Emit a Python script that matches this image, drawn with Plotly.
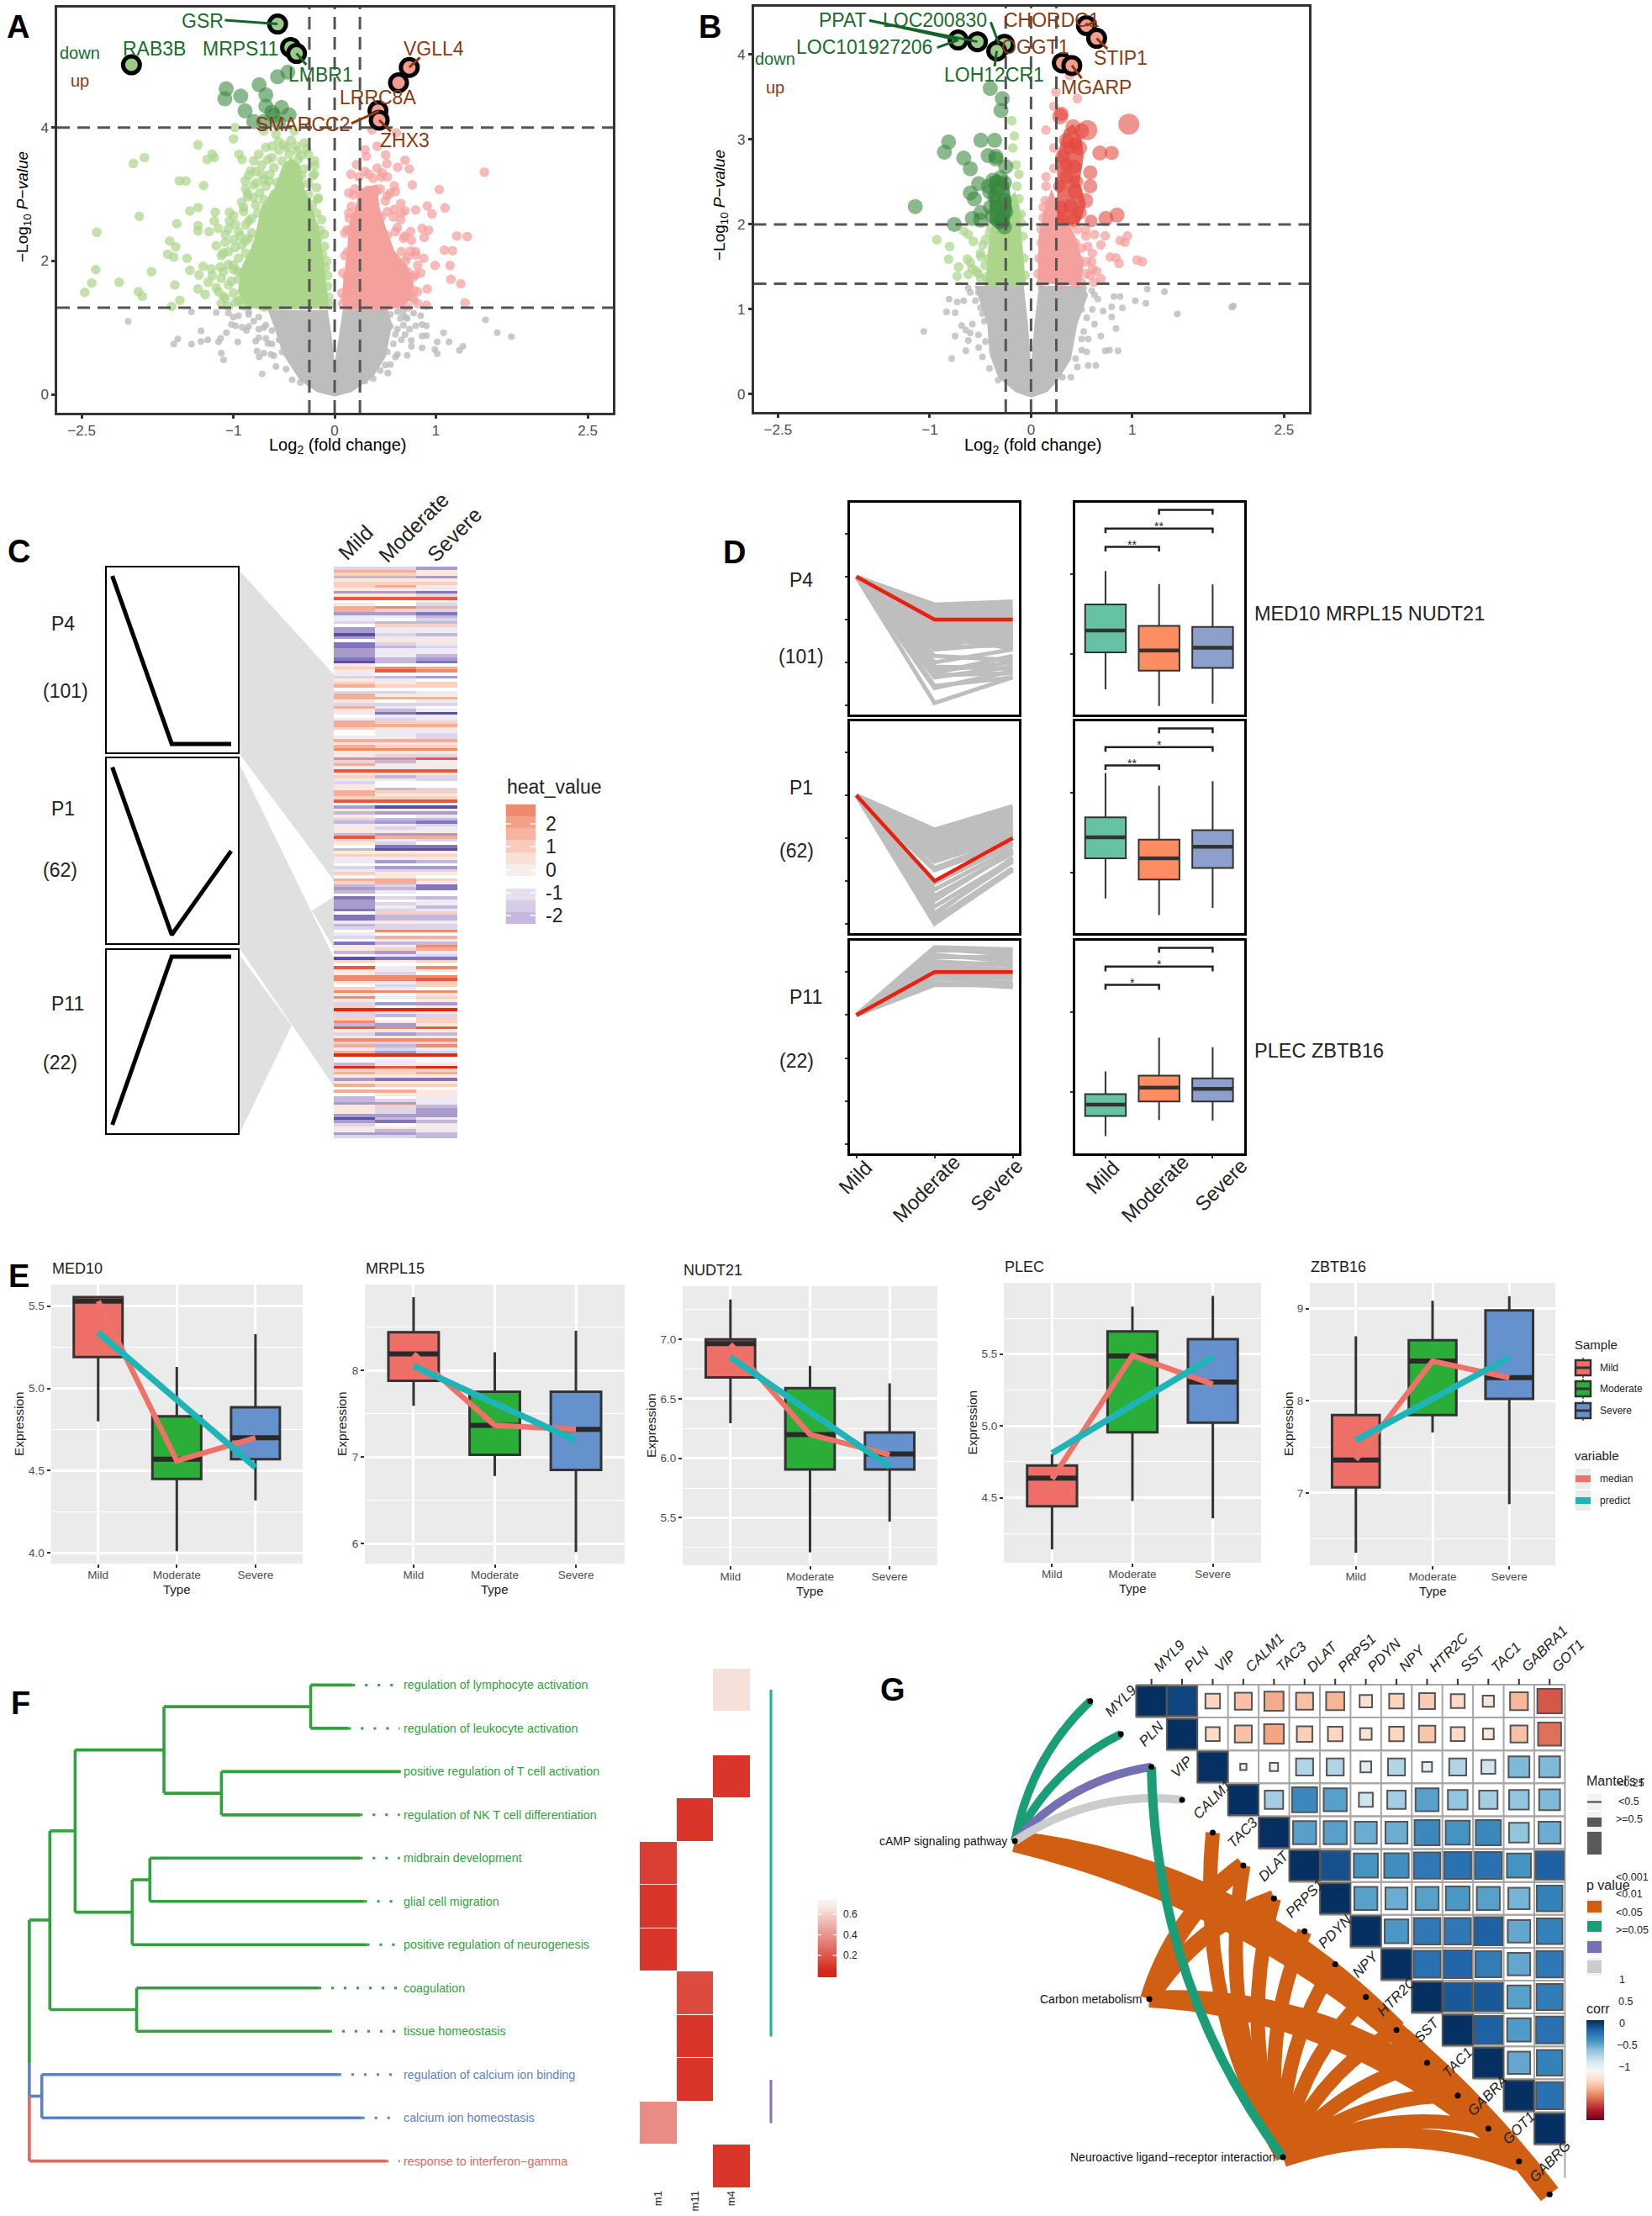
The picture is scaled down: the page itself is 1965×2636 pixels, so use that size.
import plotly.graph_objects as go

W, H = 1965, 2636
FONT = "Liberation Sans"

# ---------------- Panel A: volcano values (log2FC, -log10 P) ----------------
a_dark_green = [(-1.072,4.58),(-1.085,4.43),(-.928,4.47),(-.746,4.64),(-.68,4.49),(-.564,4.76),(-.462,4.83),(-.886,4.25),
                (-.68,4.32),(-.62,4.23),(-.525,4.30),(-.45,4.19),(-.80,4.09),(-.70,4.09),(-.555,4.07),(-.60,4.18)]
a_ring_green = [(-.564,5.55),(-.436,5.20),(-.377,5.11),(-2.008,4.94)]
a_ring_pink = [(.737,4.90),(.631,4.67),(.428,4.25),(.44,4.11)]
a_light_green = [(-.985,4.0),(-1.0,3.83),(-1.35,3.74),(-1.88,3.55),(-1.99,3.46),(-1.21,3.6),(-1.26,3.52),(-1.19,3.55),(-.945,3.6),(-.915,3.52),
    (-1.535,3.2),(-1.47,3.2),(-1.295,3.13),(-.885,3.2),(-.83,3.35),(-.86,3.01),(-1.35,2.80),(-1.43,2.75),(-1.18,2.73),(-1.04,2.73),(-1.93,2.67),
    (-1.56,2.56),(-2.35,2.43),(-1.35,2.53),(-1.35,2.45),(-1.24,2.44),(-1.19,2.6),(-1.04,2.6),(-1.15,2.49),(-1.08,2.4),(-1.63,2.3),(-1.57,2.21),
    (-1.65,2.10),(-1.59,2.06),(-1.46,2.04),(-1.17,2.23),(-1.10,2.12),(-.985,2.2),(-2.36,1.87),(-1.81,1.84),(-1.43,1.86),(-1.30,1.92),(-1.13,1.91),
    (-1.34,1.79),(-1.21,1.78),(-2.40,1.67),(-2.13,1.68),(-1.58,1.64),(-1.94,1.54),(-2.47,1.53),(-1.90,1.47),(-1.35,1.58),(-1.53,1.41),(-1.61,1.32),
    (-1.17,1.6),(-1.10,1.47),(-1.0,1.87),(-.955,1.40),(-.89,1.67),(-.83,1.93),(-.93,2.37),(-.85,2.6),(-.77,3.17),(-.68,3.7),(-.555,3.79),(-.43,3.81),
    (-.30,3.77),(-.195,3.43),(-.215,3.28),(-.17,2.93),(-.75,3.6),(-.62,3.55),(-.72,3.3),(-.65,3.2),(-.8,2.95),(-.9,2.8),(-.98,2.55),(-.88,2.3),
    (-1.02,1.7),(-.96,1.85),(-1.05,1.95),(-.78,1.78),(-.77,2.05),(-.37,3.65),(-.47,3.7),(-.26,3.6),(-.58,3.9),(-.4,3.95),(-.7,3.95),
    (-.62,3.72),(-.55,3.66),(-.5,3.74),(-.45,3.6),(-.38,3.72),(-.33,3.58),(-.28,3.68),(-.8,3.5),(-.72,3.44),(-.66,3.52),(-.6,3.4),(-.52,3.5),(-.44,3.42),(-.36,3.52),(-.3,3.38),(-.2,3.5),
    (-.85,3.28),(-.78,3.34),(-.7,3.22),(-.64,3.3),(-.57,3.18),(-.48,3.32),(-.4,3.2),(-.33,3.28),(-.26,3.16),(-.2,3.3),(-.88,3.08),(-.8,3.14),(-.74,3.02),(-.68,3.12),(-.6,3.0),(-.5,3.1),
    (-.42,3.02),(-.34,3.14),(-.26,3.0),(-.18,3.1),(-.92,2.88),(-.86,2.96),(-.78,2.84),(-.7,2.92),(-.62,2.82),(-.52,2.94),(-.44,2.86),(-.3,2.92),(-.22,2.84),(-.16,2.94),
    (-1.0,2.68),(-.9,2.74),(-.82,2.64),(-.76,2.72),(-.68,2.62),(-.6,2.74),(-.26,2.66),(-.18,2.72),(-.13,2.62),(-1.05,2.48),(-.95,2.44),(-.88,2.54),(-.82,2.42),(-.72,2.5),(-.64,2.42),(-.2,2.52),(-.14,2.46),(-.1,2.4),
    (-1.08,2.28),(-1.0,2.32),(-.92,2.24),(-.85,2.34),(-.78,2.22),(-.7,2.3),(-.16,2.34),(-.1,2.22),(-1.12,2.08),(-1.05,2.14),(-.95,2.04),(-.88,2.12),(-.8,2.02),(-.72,2.14),(-.12,2.1),(-.08,2.0),
    (-1.22,1.88),(-1.1,1.84),(-1.0,1.94),(-.92,1.82),(-.85,1.9),(-.75,1.84),(-.09,1.9),(-.07,1.78),(-1.25,1.68),(-1.12,1.74),(-1.05,1.64),(-.95,1.72),(-.88,1.6),(-.78,1.7),(-.07,1.62),
    (-1.28,1.5),(-1.15,1.54),(-1.08,1.44),(-1.0,1.52),(-.92,1.42),(-.82,1.5),(-.06,1.46),(-1.12,1.36),(-1.05,1.32),(-.98,1.38),(-.9,1.33),(-.8,1.36),(-.7,1.31),(-.6,1.34),(-.05,1.34)]
a_light_pink = [(1.48,3.33),(1.034,3.07),(1.09,2.795),(.915,2.825),(.962,2.706),(.767,3.14),(.737,3.378),(.695,3.51),(.623,3.404),(.61,3.92),(.42,3.72),
    (.3,3.664),(.504,3.59),(.313,3.567),(.516,3.457),(.216,3.444),(.42,3.39),(.335,3.30),(.462,3.26),(.589,3.126),(.547,3.015),(.653,2.86),(.589,2.77),
    (.695,2.75),(.8,2.764),(.653,2.62),(.864,2.486),(.928,2.46),(.885,2.353),(1.206,2.375),(1.31,2.366),(1.085,2.163),(1.165,2.155),(.992,1.934),
    (1.14,1.934),(1.148,1.726),(1.246,1.66),(.915,1.58),(.78,1.558),(1.288,1.373),(.907,1.338),(.82,1.36),(.78,1.426),(.82,1.934),(.8,2.09),(.695,2.375),
    (.758,2.31),(.8,1.8),(.737,1.757),(.186,2.99),(.165,2.817),(.123,2.464),(.144,2.64),(.369,3.965),(.5,2.9),(.42,3.05),(.62,2.5),(.75,2.15),(.7,2.0),(.6,1.4),
    (.16,3.3),(.24,3.26),(.3,3.34),(.38,3.24),(.47,3.32),(.52,3.26),(.14,3.02),(.2,3.08),(.26,2.98),(.33,3.06),(.38,2.96),(.45,3.08),(.52,2.98),(.6,3.04),
    (.14,2.72),(.2,2.66),(.28,2.74),(.34,2.64),(.4,2.72),(.46,2.66),(.52,2.74),(.58,2.66),(.66,2.72),(.1,2.42),(.16,2.46),(.22,2.36),(.3,2.44),(.38,2.36),(.45,2.46),(.52,2.38),(.6,2.44),(.68,2.34),(.75,2.44),
    (.1,2.08),(.13,2.14),(.2,2.04),(.5,2.12),(.58,2.04),(.66,2.14),(.72,2.06),(.8,2.14),(.88,2.04),(.08,1.82),(.12,1.76),(.6,1.84),(.66,1.76),(.72,1.84),(.78,1.76),(.85,1.82),
    (.07,1.52),(.1,1.46),(.55,1.54),(.62,1.46),(.7,1.52),(.76,1.46),(.82,1.54),(.08,1.36),(.15,1.32),(.3,1.35),(.5,1.32),(.65,1.35),(.72,1.31)]
a_gray = [(-2.04,1.095),(-1.415,1.236),(-1.59,.755),(-1.55,.83),(-1.415,.755),(-1.32,.954),(-1.32,.795),(-1.254,.82),(-1.148,.786),(-1.127,.84),(-1.12,.62),
    (-1.097,.52),(-1.07,.927),(-1.17,1.227),(-1.0,1.16),(-1.02,1.05),(-.98,1.03),(-.915,1.007),(-.873,.96),(-.957,.786),(-.767,.653),(-.746,.565),(-.716,.31),
    (-.66,.764),(1.49,1.117),(1.606,.927),(1.746,.865),(1.267,.72),(1.233,.662),(1.13,.786),(1.076,.927),(1.013,.786),(.99,.675),(1.013,.61),(.864,1.05),
    (.907,1.03),(.8,1.03),(.864,.874),(.907,.883),(.864,.70),(.758,.808),(.758,.72),(.695,.896),(.716,.587),(.65,1.14),(.716,1.14),(.674,1.227),(.525,.322),
    (-.85,1.2),(-.8,1.1),(-.7,1.0),(-.75,.85),(-.63,.6),(.6,.9),(.62,.6),(.55,.45),
    (-1.05,1.22),(-.95,1.18),(-.85,1.24),(-.75,1.16),(.55,1.2),(.62,1.24),(.7,1.16),(.78,1.22),(.85,1.18),(-.85,1.02),(-.75,.98),(-.68,1.04),(-.62,.96),(.55,1.02),(.62,.98),(.68,1.04),(.74,.98),
    (-.78,.8),(-.68,.84),(-.62,.76),(-.55,.82),(.5,.84),(.58,.76),(.66,.82),(-.7,.62),(-.6,.58),(-.52,.64),(.45,.6),(.52,.64),(.6,.56),(-.58,.42),(-.48,.38),(-.4,.44),(.38,.42),(.45,.36),(.5,.44),(-.42,.22),(-.34,.18),(.3,.2),(.38,.24)]
a_core_green = [(-.682,1.263),(-.873,1.316),(-.958,1.536),(-.915,1.934),(-.81,2.243),(-.767,2.508),(-.725,2.817),(-.597,3.082),(-.513,3.435),(-.428,3.545),
    (-.343,3.435),(-.30,3.082),(-.216,2.773),(-.153,2.464),(-.11,2.022),(-.068,1.492),(-.055,1.294)]
a_core_pink = [(.08,1.27),(.08,1.625),(.123,2.155),(.144,2.552),(.208,2.817),(.25,3.082),(.42,3.148),(.44,2.817),(.504,2.508),(.589,2.155),(.716,1.934),
    (.78,1.669),(.758,1.448),(.674,1.316),(.504,1.263)]
a_core_gray = [(-.661,1.263),(-.597,1.007),(-.513,.609),(-.343,.212),(-.174,.035),(0,-.03),(.165,.035),(.377,.256),(.504,.565),(.568,1.05),(.525,1.263),
    (.08,1.263),(.038,.83),(0,.477),(-.025,.83),(-.068,1.263)]
a_leader_green = [[(-1.085,5.607),(-.564,5.55)],[(-.377,5.11),(-.28,4.94)]]
a_leader_brown = [[(.737,4.90),(.843,5.05)],[(.44,4.25),(.165,4.06)],[(.44,4.11),(.555,3.94)]]
a_labels = [("GSR",241,25,"g"),("RAB3B",183,58,"g"),("MRPS11",286,58,"g"),("LMBR1",381,89,"g"),("VGLL4",516,58,"b"),("LRRC8A",449,116,"b"),
            ("SMARCC2",360,148,"b"),("ZHX3",481,167,"b")]

# ---------------- Panel B: volcano values ----------------
b_ring_green = [(-.72,4.17),(-.53,4.15),(-.263,4.12),(-.339,4.04)]
b_ring_pink = [(.547,4.34),(.648,4.19),(.309,3.90),(.403,3.87)]
b_dark_green = [(-.403,3.60),(-.284,3.48),(-.297,3.34),(-.814,2.97),(-.856,2.85),(-.665,2.78),(-.60,2.655),(-.496,2.99),(-.36,2.99),(-.424,2.81),(-.347,2.77),
    (-.25,2.68),(-.517,2.48),(-.60,2.37),(-.56,2.30),(-.377,2.52),(-.326,2.42),(-.263,2.28),(-1.144,2.21),(-.758,2.0),(-.58,2.07),(-.496,2.14),(-.326,2.21),
    (-.305,2.07),(-.41,2.385),(-.263,2.49),(-.263,1.97),(-.347,2.8),(-.5,2.05),(-.4,2.2),(-.36,2.32),(-.3,2.55),(-.38,2.1),(-.25,2.15),(-.42,2.45)]
b_dark_red = [(.288,3.27),(.555,3.11),(.966,3.18),(.415,3.15),(.35,2.99),(.48,2.9),(.68,2.84),(.797,2.84),(.585,2.61),(.585,2.45),(.54,2.28),(.31,2.8),(.35,2.56),
    (.436,2.385),(.394,2.21),(.48,2.14),(.593,2.04),(.74,2.07),(.85,2.11),(.31,2.07),(.28,2.45),(.43,2.68),(.5,3.1),(.3,3.3),(.45,2.5),(.3,2.2),(.42,2.05),(.38,2.9),(.44,2.95),(.35,2.7)]
b_dark_red_size = [19,24,25,18,18,18,18,17,17,17,18,17,17,18,18,17,15,18,18,15,15,17,18,17,16,16,16,16,16,16]
b_light_green = [(-.19,3.22),(-.165,3.04),(-.18,2.9),(-.148,2.70),(-.12,2.59),(-.93,1.82),(-.805,1.74),(-.665,1.92),(-.62,1.88),(-.57,1.80),(-.814,1.59),(-.716,1.50),
    (-.73,1.39),(-.63,1.59),(-.60,1.55),(-.496,1.62),(-.62,1.41),(-.496,1.36),(-.58,1.48),(-.475,1.76),(-.41,1.90),(-.453,1.52),(-.54,1.45),(-.38,1.7),(-.14,2.45),(-.12,2.3),
    (-.4,1.98),(-.34,2.02),(-.28,1.96),(-.22,2.04),(-.16,1.98),(-.1,2.02),(-.45,1.82),(-.36,1.86),(-.3,1.8),(-.24,1.88),(-.15,1.8),(-.08,1.86),(-.5,1.66),(-.42,1.6),(-.34,1.66),(-.26,1.58),(-.16,1.64),(-.07,1.6),
    (-.52,1.42),(-.44,1.38),(-.38,1.44),(-.3,1.36),(-.2,1.42),(-.12,1.34),(-.06,1.4),(-.42,1.31),(-.3,1.3),(-.15,1.31),(-.18,2.2),(-.13,2.1),(-.1,2.12)]
b_light_pink = [(.148,3.11),(.246,3.56),(.225,3.39),(.458,3.48),(.225,2.9),(.148,2.56),(.148,2.45),(.18,2.25),(.14,2.28),(.225,2.66),(.953,1.865),(.88,1.81),(.928,1.79),
    (.733,1.865),(.69,1.76),(.627,1.88),(.54,1.93),(.784,1.615),(.84,1.605),(.869,1.54),(1.047,1.58),(1.10,1.56),(.69,1.36),(.606,1.66),(.606,1.47),(.648,1.45),(.5,1.31),(.585,1.4),(.38,3.75),
    (.12,2.08),(.1,1.94),(.2,2.02),(.28,1.96),(.38,1.98),(.46,1.94),(.54,1.86),(.1,1.78),(.16,1.8),(.3,1.82),(.44,1.78),(.5,1.72),(.56,1.74),(.08,1.6),(.14,1.58),(.32,1.6),(.48,1.58),(.55,1.56),(.6,1.56),
    (.07,1.42),(.13,1.38),(.22,1.4),(.36,1.42),(.46,1.36),(.54,1.42),(.62,1.32),(.1,1.31),(.3,1.3),(.44,1.3),(.12,2.2),(.16,2.12)]
b_gray = [(-1.06,.74),(-.784,.42),(-.835,.97),(-.75,.96),(-.81,1.12),(-.73,1.085),(-.665,1.10),(-.686,.81),(-.644,.756),(-.58,.825),(-.60,.72),(-.75,.686),(-.644,.513),(-.517,.548),
    (-.62,.634),(.86,.513),(.733,.513),(.775,.52),(.69,.686),(.839,.773),(.627,.825),(.712,.98),(.797,1.03),(.903,1.016),(.797,.91),(.88,1.15),(.818,1.15),(1.03,1.10),(1.135,1.07),
    (1.148,1.24),(1.318,1.206),(1.445,.946),(1.983,1.026),(2.0,1.04),(.627,1.17),(.564,.34),(.64,.34),(.458,.322),(.394,.2),(.31,.2),(-.41,.305),(-.326,.166),(.5,.65),(.564,.65),(.606,1.0),
    (-.55,1.1),(-.48,.95),(-.6,1.2),(.55,.9),(.5,1.0),(-.62,1.25),(-.52,1.2),(-.5,1.02),(-.46,.86),(-.52,.7),(-.45,.62),(-.48,.44),(.52,1.25),(.6,1.22),(.66,1.12),(.52,.74),(.5,.52),(.44,.42),(.55,.5)]
b_core_lgreen = [(-.453,1.276),(-.411,1.865),(-.347,2.142),(-.263,2.246),(-.157,2.385),(-.114,2.21),(-.093,1.865),(-.05,1.276)]
b_core_pink = [(.064,1.31),(.076,1.865),(.14,2.21),(.203,2.42),(.267,2.21),(.436,1.865),(.52,1.518),(.479,1.276)]
b_core_dgreen = [(-.41,2.02),(-.41,2.558),(-.326,2.593),(-.22,2.49),(-.19,2.21),(-.22,1.97),(-.326,1.934)]
b_core_dred = [(.258,2.0),(.258,2.8),(.33,3.113),(.415,3.18),(.5,3.01),(.52,2.8),(.479,2.49),(.542,2.246),(.5,2.073),(.458,2.0)]
b_core_gray = [(-.559,1.276),(-.432,.825),(-.411,.478),(-.326,.2),(-.157,.028),(0,-.04),(.161,.028),(.267,.166),(.394,.409),(.458,.825),(.564,1.17),(.52,1.276),
    (.076,1.276),(.034,.825),(0,.34),(-.03,.825),(-.072,1.276)]
b_leader_green = [[(-1.597,4.40),(-.72,4.17)],[(-1.597,4.40),(-.53,4.15)],[(-.398,4.38),(-.318,4.125)],[(-.928,4.08),(-.72,4.17)],[(-.36,3.86),(-.339,4.04)]]
b_leader_brown = [[(.547,4.34),(.648,4.395)],[(.648,4.19),(.754,4.066)],[(.403,3.87),(.5,3.72)]]
b_labels = [("PPAT",1003,24,"g"),("LOC200830",1112,24,"g"),("CHORDC1",1251,24,"b"),("LOC101927206",1028,56,"g"),("OGGT1",1231,56,"b"),
            ("LOH12CR1",1182,89,"g"),("STIP1",1333,69,"b"),("MGARP",1304,104,"b")]

# ---------------- Panel C ----------------
stage_x = [0, 1, 2]
pattern_p4 = [1, 0, 0]
pattern_p1 = [1, 0, 0.5]
pattern_p11 = [0, 1, 1]
heat_rows = [
 (-1,-1,-2),(1.5,1.5,.5),(1,1,.5),(-1.5,-1.5,-2),(.5,.5,.5),(1,1,1),(1,1.5,.5),(.5,.5,-.5),(-2,-2,-2.5),(.5,.5,-1),(2.5,2.5,2.5),(0,0,-.5),(.5,0,-1),
 (1.5,2,1.5),(1.5,1,-1),(-2,-2,-2.5),(-.5,-.5,-1.5),(-.5,0,-1),(-1,-1.5,-1.5),(0,1,1),(-2,-.5,-.5),(-2,-.5,-.5),(-3,-1,-1.5),(-2,-.5,-.5),(0,.5,.5),
 (-2.5,-1,-.5),(-2.5,-1.5,-1),(-2,-.5,-.5),(-2,-.5,-.5),(-2,-.5,-1.5),(-2.5,-1.5,-2),(-3,-1.5,-2.5),(.5,0,0),(1,2,1.5),(.5,2.5,2),(-.5,0,0),(-1,-1.5,-2),
 (.5,-.5,0),(1,.5,1),(1.5,1,1),(0,0,0),(-1,-1,-.5),(1.5,.5,.5),(1.5,1.5,1.5),(.5,0,-.5),(-1,-1,-1),(1.5,-.5,0),(.5,-1.5,-.5),(-.5,-2.5,-3),(0,-.5,-.5),
 (-.5,-1,-.5),(1.5,1,1),(1.5,1.5,1.5),(1,.5,.5),(0,-.5,-.5),(0,-.5,-1),(-.5,-.5,-1),(1.5,1.5,1.5),(.5,.5,.5),(1.5,1,1),(2,2,2),(.5,.5,.5),
 (-.5,-1,-1),(2,2,2.5),(-1,-1.5,-.5),(1.5,.5,.5),(-.5,-.5,-.5),(2.5,2.5,2.5),(.5,.5,.5),(1,-1.5,-1),(-.5,-.5,-1),(-1,0,0),(.5,0,0),(-.5,-1.5,-1),(1.5,1,1),
 (1.5,.5,.5),(1,1,1),(2.5,2.5,2.5),(0,0,0),(-2,-3,-3),(.5,.5,.5),(-1.5,-2,-2),(.5,0,-.5),(-1,-1.5,-1.5),(-1.5,-2,-2.5),(-.5,-.5,-1),(.5,-1,-.5),(.5,.5,.5),
 (-1.5,-2,-2),(2.5,1.5,1.5),(1,-.5,-1),(.5,-1,0),(0,-2.5,-2.5),(-1.5,-3,-3),(.5,.5,.5),(1,1,1),(-.5,-.5,.5),(-.5,-2,-1.5),(0,0,0),(-1,-2,-2),(-.5,-1,-1),
 (1,.5,.5),(0,.5,0),(1.5,1.5,1),(1,1.5,.5),(-1.5,-1,-2.5),(-2,-1.5,-2.5),(-1.5,-.5,0),(0,0,0),(-2.5,-1,-1.5),(-2,0,-.5),(-2,-1,-.5),(-2,-.5,-1.5),(-2.5,-1,-.5),
 (0,1,1),(-2.5,-1.5,-1.5),(-2.5,-1.5,-1.5),(-.5,.5,-.5),(-1.5,-1,-1),(-1,-1,-1),(0,2,2),(-.5,0,0),(-1,1.5,1.5),(0,-.5,-.5),(-2.5,-1.5,-1.5),(-.5,-.5,2),
 (.5,1,1.5),(-1.5,-2,-.5),(0,-.5,-1),(-3,-2.5,-2.5),(1,.5,1),(0,0,0),(2.5,-.5,2),(.5,-.5,.5),(.5,-1,0),(2,2,2),(2,2,2.5),(.5,-.5,1),(0,-1,1),(1,-.5,0),(2,2,2),
 (.5,0,.5),(2,-.5,1),(.5,0,.5),(-1,-2,-2),(1,0,.5),(3,3,3),(-1,-.5,-.5),(-1,-1.5,-1),(1,0,1),(2,.5,1),(-1.5,-2,.5),(2.5,2,2.5),(.5,.5,.5),(-1,-2,-1.5),(.5,.5,.5),
 (2,2,2),(-1,-1,-1),(1.5,-1.5,2),(-.5,-1,-.5),(1.5,-2,-1),(3,3,3),(0,0,0),(0,-.5,0),(-1.5,-.5,-.5),(3,2.5,3),(1,1,1),(1.5,1,1.5),(.5,.5,.5),(-2,-2.5,-2.5),(.5,.5,.5),
 (1.5,1,1),(0,0,0),(1.5,1.5,.5),(0,.5,.5),(-1.5,0,-.5),(-1.5,-1,-.5),(-2,-2,-.5),(.5,1,-1.5),(.5,-1,-2),(.5,-1,-2),(-2,-2,-2),(-3,-1.5,-.5),(-2,-2.5,-1.5),(-1,0,-.5),
 (.5,.5,.5),(-.5,-1.5,-.5),(-2,-2,-1.5),(-1,-1,-1.5)]
heat_colorscale = [[0,'#5B4EA6'],[1/6,'#A99BCB'],[2/6,'#DCD4E8'],[.5,'#FFFFFF'],[4/6,'#FAD0C0'],[5/6,'#F08A6C'],[1,'#E8250F']]
heat_legend_levels = [2.75,2.25,1.75,1.25,.75,.25,-.25,-.75,-1.25,-1.75]
heat_legend_colors = ['#F08A6C','#F3A089','#F6B5A2','#F8CBBB','#F9E0D6','#F6EEEA','#FFFFFF','#E5DFEE','#D6CCE5','#C6B8DC']

# ---------------- Panel D ----------------
d_p4_lines = [(-.65,-.58),(-.7,-.65),(-.72,-.8),(-.75,-.72),(-.8,-.85),(-.85,-.95),(-.9,-.75),(-.95,-1.05),(-1.,-.9),(-1.05,-1.2),(-1.1,-1.1),(-1.15,-1.0),(-1.2,-1.3),
    (-1.25,-1.15),(-1.3,-1.4),(-1.35,-1.25),(-1.4,-1.5),(-1.45,-1.3),(-1.5,-1.55),(-1.55,-1.35),(-1.6,-1.4),(-1.65,-1.6),(-1.7,-1.55),(-1.85,-1.95),(-2.0,-1.7),(-2.1,-2.15),
    (-2.2,-2.0),(-2.3,-2.25),(-2.35,-2.1),(-2.55,-2.35),(-2.6,-2.2),(-2.95,-2.35),(-2.25,-1.85),(-.68,-.9),(-.78,-1.1),(-.88,-1.25),(-.98,-1.45),(-1.08,-1.5),(-1.18,-1.65),(-1.28,-1.7)]
d_p1_lines = [(-.8,-.25),(-.85,-.3),(-.9,-.4),(-.95,-.35),(-1.0,-.5),(-1.05,-.45),(-1.1,-.6),(-1.15,-.55),(-1.2,-.7),(-1.25,-.65),(-1.3,-.75),(-1.35,-.85),(-1.45,-.9),(-1.55,-.95),
    (-1.7,-1.0),(-1.75,-1.1),(-2.05,-1.15),(-2.35,-1.35),(-2.45,-1.3),(-2.6,-1.5),(-2.75,-1.55),(-2.9,-1.7),(-3.0,-1.75),(-2.2,-1.25),(-2.8,-1.45),(-.82,-.5),(-.92,-.7),(-1.02,-.8),(-1.12,-.95)]
d_p11_lines = [(1.55,1.4),(1.5,1.5),(1.4,1.25),(1.35,1.35),(1.25,1.15),(1.2,1.2),(1.15,1.05),(1.1,.95),(1.05,.9),(.95,.85),(.85,.75),(.75,.65),(.7,.7),(1.58,1.53),(1.0,.7),(.9,.66)]
d_red = [(-1,-1),(-2,-1),(1,1)]
# whisker high, q3, median, q1, whisker low per stage, per row
d_boxes = [
 [(1.04,.62,.29,.017,-.45),(.875,.348,.04,-.215,-.66),(.87,.336,.075,-.18,-.63)],
 [(1.25,.69,.44,.174,-.33),(1.087,.41,.174,-.093,-.54),(1.145,.53,.32,.052,-.45)],
 [(.26,-.023,-.157,-.297,-.55),(.686,.209,.058,-.116,-.349),(.564,.174,.041,-.116,-.355)]]
d_box_colors = ['#66C2A5','#FC8D62','#8DA0CB']
d_stars = [("**","**"),("*","**"),("*","*")]

# ---------------- Panel E ----------------
e_genes = ["MED10","MRPL15","NUDT21","PLEC","ZBTB16"]
e_boxes = {
 "MED10":[(5.555,5.555,5.53,5.19,4.80),(5.13,4.83,4.57,4.45,4.01),(5.33,4.885,4.70,4.57,4.32)],
 "MRPL15":[(8.846,8.44,8.19,7.88,7.59),(8.21,7.754,7.365,7.026,6.78),(8.457,7.754,7.32,6.85,5.9)],
 "NUDT21":[(7.336,7.0,6.965,6.68,6.295),(6.777,6.59,6.2,5.906,5.21),(6.63,6.217,6.036,5.906,5.467)],
 "PLEC":[(4.803,4.725,4.637,4.44,4.14),(5.83,5.658,5.487,4.955,4.477),(5.906,5.604,5.305,5.023,4.357)],
 "ZBTB16":[(8.70,7.845,7.357,7.06,6.35),(9.085,8.658,8.43,7.845,7.656),(9.137,8.98,8.25,8.02,6.878)]}
e_median = {"MED10":[5.53,4.56,4.70],"MRPL15":[8.19,7.365,7.32],"NUDT21":[6.96,6.2,6.03],"PLEC":[4.63,5.49,5.29],"ZBTB16":[7.36,8.43,8.25]}
e_predict = {"MED10":[5.34,4.52],"MRPL15":[8.05,7.19],"NUDT21":[6.85,5.93],"PLEC":[4.81,5.48],"ZBTB16":[7.57,8.47]}
e_ticks = {"MED10":[4,4.5,5,5.5],"MRPL15":[6,7,8],"NUDT21":[5.5,6,6.5,7],"PLEC":[4.5,5,5.5],"ZBTB16":[7,8,9]}
e_minor = {"MED10":[4.25,4.75,5.25],"MRPL15":[6.5,7.5,8.5],"NUDT21":[5.25,5.75,6.25,6.75,7.25],"PLEC":[4.25,4.75,5.25,5.75],"ZBTB16":[6.5,7.5,8.5]}
e_yrange = {"MED10":(3.935,5.631),"MRPL15":(5.767,8.992),"NUDT21":(5.10,7.447),"PLEC":(4.047,5.996),"ZBTB16":(6.213,9.28)}
e_stage = ["Mild","Moderate","Severe"]
e_colors = ['#ED6F68','#2BAE38','#6592CD']

# ---------------- Panel F ----------------
f_terms = ["regulation of lymphocyte activation","regulation of leukocyte activation","positive regulation of T cell activation",
           "regulation of NK T cell differentiation","midbrain development","glial cell migration","positive regulation of neurogenesis",
           "coagulation","tissue homeostasis","regulation of calcium ion binding","calcium ion homeostasis","response to interferon−gamma"]
f_term_groups = ["g","g","g","g","g","g","g","g","g","b","b","r"]
f_leaf_end = [.877,.867,.997,.896,.896,.907,.913,.793,.82,.843,.901,.96]
f_stem_x = [.773,.773,.551,.551,.373,.373,.329,.34,.34,.104,.104,.073]
f_inner_green = [(.408,.5,.773,.5),(.773,0,.773,1),(.408,2.5,.551,2.5),(.551,2,.551,3),(.408,.5,.408,2.5),(.187,1.5,.408,1.5),(.187,5.25,.329,5.25),
                 (.329,4.5,.373,4.5),(.373,4,.373,5),(.329,4.5,.329,6),(.187,1.5,.187,5.25),(.124,3.37,.187,3.37),(.124,7.5,.34,7.5),(.34,7,.34,8),
                 (.124,3.37,.124,7.5),(.073,5.43,.124,5.43),(.073,5.43,.073,8.75)]
f_inner_blue = [(.104,9,.104,10),(.073,9.5,.104,9.5),(.073,8.75,.073,9.5)]
f_inner_red = [(.073,9.5,.073,11)]
f_cols = ["m1","m11","m4"]
f_tiles = [[None,None,.65],[None,None,None],[None,None,.1],[None,.1,None],[.13,None,None],[.1,None,None],[.1,None,None],
           [None,.17,None],[None,.1,None],[None,.1,None],[.38,None,None],[None,None,.1]]
f_scale = [[0,'#D7261A'],[1,'#F8EFEA']]
f_ramp = [.72,.66,.6,.54,.48,.42,.36,.3,.24,.18,.12,.06,.01]

# ---------------- Panel G ----------------
g_cols = ["MYL9","PLN","VIP","CALM1","TAC3","DLAT","PRPS1","PDYN","NPY","HTR2C","SST","TAC1","GABRA1","GOT1"]
g_rows = ["MYL9","PLN","VIP","CALM1","TAC3","DLAT","PRPS1","PDYN","NPY","HTR2C","SST","TAC1","GABRA","GOT1","GABRG"]
g_corr = [
 [1,.92,-.22,-.3,-.38,-.3,-.34,-.16,-.22,-.26,-.2,-.13,-.33,-.62],
 [1,-.2,-.3,-.4,-.25,-.22,-.14,-.22,-.28,-.2,-.12,-.3,-.55],
 [1,-.04,.07,.3,.3,.12,.3,.1,.3,.2,.45,.45],
 [1,.35,.65,.55,.2,.35,.55,.4,.35,.4,.45],
 [1,.55,.55,.5,.5,.65,.6,.65,.4,.5],
 [1,.88,.6,.62,.72,.75,.75,.6,.82],
 [1,.55,.5,.55,.58,.55,.47,.68],
 [1,.58,.72,.72,.82,.52,.68],
 [1,.75,.8,.7,.52,.72],
 [1,.85,.85,.55,.7],
 [1,.82,.57,.75],
 [1,.52,.68],
 [1,.75],
 [1]]
g_scale = [[0,'#67001F'],[.1,'#B2182B'],[.2,'#D6604D'],[.3,'#F4A582'],[.4,'#FDDBC7'],[.5,'#F7F7F7'],[.6,'#D1E5F0'],[.7,'#92C5DE'],[.8,'#4393C3'],[.9,'#2166AC'],[1,'#053061']]
g_ramp = [1,.9,.8,.7,.6,.5,.4,.3,.2,.1,0,-.1,-.2,-.3,-.4,-.5,-.6,-.7,-.8,-.9,-1]
CAMP, CARB, NEURO = "cAMP signaling pathway", "Carbon metabolism", "Neuroactive ligand−receptor interaction"
g_nodes = {CAMP:(-4.46,4.256),CARB:(-.07,9.06),NEURO:(4.29,13.87)}
g_targets = list(range(16))
g_links_thin = [(CAMP,0,'#1B9E77',10),(CAMP,1,'#1B9E77',10),(CAMP,2,'#7570B3',10),(CAMP,3,'#CCCCCC',10)]
g_links_orange = [(CAMP,10,24),(CAMP,15,26),(CARB,5,22),(CARB,6,20),(CARB,12,20),(CARB,13,20),(CARB,14,20),
                  (NEURO,4,17),(NEURO,5,17),(NEURO,6,17),(NEURO,7,17),(NEURO,8,17),(NEURO,9,17),(NEURO,10,17),(NEURO,11,17),(NEURO,12,17),(NEURO,13,17),(NEURO,14,24)]
g_link_top = (NEURO,2,'#1B9E77',11)

# ---------------- helpers ----------------
fig = go.Figure()
layout = dict(width=W, height=H, margin=dict(l=0, r=0, t=0, b=0), showlegend=False, plot_bgcolor='rgba(0,0,0,0)',
              paper_bgcolor='white', font=dict(family=FONT, color='black'), boxmode='overlay')
annos, shapes = [], []
_n = [0]

def axes(box, xr, yr, xkw=None, ykw=None):
    _n[0] += 1
    n = _n[0]
    sfx = '' if n == 1 else str(n)
    x0, y0, x1, y1 = box
    xa = dict(domain=[x0/W, x1/W], range=list(xr), anchor='y'+sfx, showgrid=False, zeroline=False, showticklabels=False, ticks='')
    ya = dict(domain=[1-y1/H, 1-y0/H], range=list(yr), anchor='x'+sfx, showgrid=False, zeroline=False, showticklabels=False, ticks='')
    xa.update(xkw or {}); ya.update(ykw or {})
    layout['xaxis'+sfx] = xa
    layout['yaxis'+sfx] = ya
    return 'x'+sfx, 'y'+sfx

def T(text, x, y, size=14, color='black', xa='center', ya='middle', angle=0, bold=False):
    if bold:
        text = '<b>'+text+'</b>'
    annos.append(dict(text=text, x=x/W, y=1-y/H, xref='paper', yref='paper', showarrow=False, xanchor=xa, yanchor=ya,
                      textangle=angle, font=dict(size=size, color=color), borderpad=0))

def rect(x0, y0, x1, y1, fill=None, line=None, lw=0, layer='above'):
    shapes.append(dict(type='rect', xref='paper', yref='paper', x0=x0/W, x1=x1/W, y0=1-y0/H, y1=1-y1/H, fillcolor=fill or 'rgba(0,0,0,0)',
                       line=dict(color=line or 'rgba(0,0,0,0)', width=lw), layer=layer))

def poly(pts, fill, layer='below'):
    path = 'M ' + ' L '.join(f'{x/W:.5f} {1-y/H:.5f}' for x, y in pts) + ' Z'
    shapes.append(dict(type='path', xref='paper', yref='paper', path=path, fillcolor=fill, line=dict(width=0), layer=layer))

def pts(data, xa, ya, color, size, line=None, lw=0):
    xs, ys = zip(*data)
    fig.add_trace(go.Scatter(x=xs, y=ys, xaxis=xa, yaxis=ya, mode='markers', hoverinfo='skip',
                             marker=dict(color=color, size=size, opacity=1, line=dict(color=line or 'rgba(0,0,0,0)', width=lw))))

def region(data, xa, ya, color):
    xs, ys = zip(*data)
    fig.add_trace(go.Scatter(x=list(xs)+[xs[0]], y=list(ys)+[ys[0]], xaxis=xa, yaxis=ya, mode='lines', fill='toself', fillcolor=color,
                             line=dict(width=0), hoverinfo='skip'))

def lines(segs, xa, ya, color, width, dash=None):
    xs, ys = [], []
    for s in segs:
        for p in s:
            xs.append(p[0]); ys.append(p[1])
        xs.append(None); ys.append(None)
    fig.add_trace(go.Scatter(x=xs, y=ys, xaxis=xa, yaxis=ya, mode='lines', hoverinfo='skip', line=dict(color=color, width=width, dash=dash)))

LG = 'rgba(170,213,138,.72)'; LP = 'rgba(244,160,156,.72)'; GY = 'rgba(188,188,188,.8)'
DG = 'rgba(55,135,60,.58)'; DR = 'rgba(226,70,60,.58)'
GTXT = '#1A6B2C'; BTXT = '#8A3B12'

def volcano_axes(box, xr, yr, yticks):
    tick = dict(ticks='outside', ticklen=4, tickwidth=2.5, tickcolor='#333', showticklabels=True, tickfont=dict(size=17, color='#4D4D4D'))
    base = dict(showline=True, mirror=True, linecolor='#333', linewidth=2.5)
    return axes(box, xr, yr, dict(tickvals=[-2.5,-1,0,1,2.5], ticktext=['−2.5','−1','0','1','2.5'], **tick, **base),
                dict(tickvals=yticks, **tick, **base))

# Panel A
xa, ya = volcano_axes((68,9,729,491), (-2.742,2.749), (-.274,5.797), [0,2,4])
pts(a_gray, xa, ya, GY, 8); region(a_core_gray, xa, ya, '#BDBDBD')
region(a_core_green, xa, ya, '#ABD58B'); region(a_core_pink, xa, ya, '#F4A09C')
pts(a_light_green, xa, ya, LG, 11.5); pts(a_light_pink, xa, ya, LP, 11.5)
pts(a_dark_green, xa, ya, DG, 18)
for y0 in (4, 1.3):
    lines([[(-2.742,y0),(2.749,y0)]], xa, ya, '#555', 3, '15px,9px')
for x0 in (-.25, 0, .25):
    lines([[(x0,-.274),(x0,5.797)]], xa, ya, '#555', 3, '15px,9px')
pts(a_ring_green, xa, ya, '#9CC98A', 20, 'black', 5); pts(a_ring_pink, xa, ya, '#F29C92', 20, 'black', 5)
lines(a_leader_green, xa, ya, '#14652A', 3); lines(a_leader_brown, xa, ya, '#8A3B12', 3)
for t, x, y, c in a_labels:
    T(t, x, y, 23, GTXT if c == 'g' else BTXT)
T('down', 95, 63, 20, GTXT); T('up', 95, 96, 20, BTXT)
T('Log<sub>2</sub> (fold change)', 401, 530, 20)
T('−Log<sub>10</sub> <i>P</i>−<i>value</i>', 28, 246, 19, angle=-90)
T('A', 21, 32, 38, bold=True)

# Panel B
xa, ya = volcano_axes((896.5,8,1557,490), (-2.74,2.746), (-.208,4.562), [0,1,2,3,4])
pts(b_gray, xa, ya, GY, 8); region(b_core_gray, xa, ya, '#BDBDBD')
region(b_core_lgreen, xa, ya, '#ABD58B'); region(b_core_pink, xa, ya, '#F4A09C')
pts(b_light_green, xa, ya, LG, 11.5); pts(b_light_pink, xa, ya, LP, 11.5)
region(b_core_dgreen, xa, ya, 'rgba(40,135,50,.8)'); region(b_core_dred, xa, ya, 'rgba(226,75,65,.8)')
pts(b_dark_green, xa, ya, DG, 18); pts(b_dark_red, xa, ya, DR, b_dark_red_size)
for y0 in (2, 1.3):
    lines([[(-2.74,y0),(2.746,y0)]], xa, ya, '#555', 3, '15px,9px')
for x0 in (-.25, 0, .25):
    lines([[(x0,-.208),(x0,4.562)]], xa, ya, '#555', 3, '15px,9px')
pts(b_ring_green, xa, ya, '#9CC98A', 20, 'black', 5); pts(b_ring_pink, xa, ya, '#F29C92', 20, 'black', 5)
lines(b_leader_green, xa, ya, '#14652A', 3); lines(b_leader_brown, xa, ya, '#8A3B12', 3)
for t, x, y, c in b_labels:
    T(t, x, y, 23, GTXT if c == 'g' else BTXT)
T('down', 922, 70, 20, GTXT); T('up', 922, 104, 20, BTXT)
T('Log<sub>2</sub> (fold change)', 1228, 530, 20)
T('−Log<sub>10</sub> <i>P</i>−<i>value</i>', 857, 244, 19, angle=-90)
T('B', 844, 32, 38, bold=True)

# Panel C
GREY = '#E0E0E0'
poly([(285,679),(397,802),(397,1047),(285,897)], GREY)
poly([(285,1348),(347,1220),(285,1136)], GREY)
poly([(371,1083),(397,1067),(397,1128)], GREY)
poly([(285,909),(397,1139),(397,1292),(285,1128)], GREY)
boxc = dict(showline=True, mirror=True, linecolor='black', linewidth=2)
for box, pat, yr in [((127,675,283,895), pattern_p4, (-.0506,1.0506)), ((127,902,283,1122), pattern_p1, (-.05,1.053)), ((127,1130,283,1348), pattern_p11, (-.05,1.04))]:
    xa, ya = axes(box, (-.093,2.114), yr, dict(boxc), dict(boxc))
    fig.add_trace(go.Scatter(x=stage_x, y=pat, xaxis=xa, yaxis=ya, mode='lines', hoverinfo='skip', line=dict(color='black', width=5)))
for t, x, y in [('P4',60,742),('(101)',50,822),('P1',60,962),('(62)',50,1035),('P11',60,1194),('(22)',50,1264)]:
    T(t, x, y, 23, '#222', xa='left')
xa, ya = axes((397,674,544,1354), (-.5,2.5), (len(heat_rows)-.5,-.5))
fig.add_trace(go.Heatmap(z=heat_rows, x=stage_x, xaxis=xa, yaxis=ya, colorscale=heat_colorscale, zmin=-3, zmax=3, showscale=False, hoverinfo='skip'))
for t, x, y in [('Mild',423,645),('Moderate',492,627),('Severe',540,636)]:
    T(t, x, y, 25, '#222', angle=-45)
T('heat_value', 602, 936, 23, '#222', xa='left')
xa, ya = axes((601.5,956.5,637,1099), (0,1), (-2,3))
fig.add_trace(go.Heatmap(z=[[v] for v in heat_legend_levels], y=heat_legend_levels, x=[.5], xaxis=xa, yaxis=ya, showscale=False, hoverinfo='skip',
                         colorscale=[[i/(len(heat_legend_colors)-1), c] for i, c in enumerate(reversed(heat_legend_colors))], zmin=-1.75, zmax=2.75))
for v, y in [('2',980),('1',1007),('0',1035),('-1',1062),('-2',1089)]:
    T(v, 648, y, 23, '#222', xa='left')
    rect(601.5, y-.7, 608, y+.7, 'white'); rect(630.5, y-.7, 637, y+.7, 'white')
T('C', 22, 656, 38, bold=True)

# Panel D
rows_y = [(597.5,849.5),(857.5,1109.5),(1118.5,1371.5)]
boxd = dict(showline=True, mirror=True, linecolor='black', linewidth=3)
d_yticks = [[1,0,-1,-2,-3]]*3
for i, (pairs, red) in enumerate(zip([d_p4_lines, d_p1_lines, d_p11_lines], d_red)):
    y0, y1 = rows_y[i]
    xkw = dict(boxd); ykw = dict(boxd, tickvals=d_yticks[i], ticks='outside', ticklen=3, tickwidth=2, tickcolor='#333')
    if i == 2:
        xkw.update(tickvals=[0,1,2], ticks='outside', ticklen=3, tickwidth=2, tickcolor='#333')
    xa, ya = axes((1010.5,y0,1212,y1), (-.088,2.08), (-3.21,1.74), xkw, ykw)
    lines([[(0,0),(1,m),(2,s)] for m, s in pairs], xa, ya, '#BEBEBE', 5)
    lines([[(0,0),(1,red[0]),(2,red[1])]], xa, ya, '#E8200F', 4.5)
for i, stats in enumerate(d_boxes):
    y0, y1 = rows_y[i]
    xkw = dict(boxd); ykw = dict(boxd, tickvals=[0,1], ticks='outside', ticklen=3, tickwidth=2, tickcolor='#333')
    if i == 2:
        xkw.update(tickvals=[0,1,2], ticks='outside', ticklen=3, tickwidth=2, tickcolor='#333')
    xa, ya = axes((1278.5,y0,1479.5,y1), (-.572,2.582), (-.762,1.905), xkw, ykw)
    for k, (hi, q3, med, q1, lo) in enumerate(stats):
        fig.add_trace(go.Box(x=[k], q1=[q1], median=[med], q3=[q3], lowerfence=[lo], upperfence=[hi], width=.76, whiskerwidth=0, xaxis=xa, yaxis=ya,
                             fillcolor=d_box_colors[k], line=dict(color='#333', width=2), hoverinfo='skip'))
        lines([[(k-.38,med),(k+.38,med)]], xa, ya, '#333', 4.5)
    br = [[(1,1.75),(1,1.81),(2,1.81),(2,1.75)], [(0,1.515),(0,1.575),(2,1.575),(2,1.515)], [(0,1.285),(0,1.345),(1,1.345),(1,1.285)]]
    lines(br, xa, ya, '#222', 2.5)
    annos.append(dict(text=d_stars[i][0], x=1, y=1.6, xref=xa, yref=ya, showarrow=False, yanchor='middle', font=dict(size=14, color='#222')))
    annos.append(dict(text=d_stars[i][1], x=.5, y=1.37, xref=xa, yref=ya, showarrow=False, yanchor='middle', font=dict(size=14, color='#222')))
for t, x, y in [('P4',953,690),('(101)',953,781),('P1',953,937),('(62)',947,1012),('P11',958,1186),('(22)',947,1262)]:
    T(t, x, y, 23, '#222')
T('MED10 MRPL15 NUDT21', 1491, 730, 23.5, '#222', xa='left')
T('PLEC ZBTB16', 1491, 1250, 23.5, '#222', xa='left')
for t, x, y in [('Mild',1017,1400),('Moderate',1101,1414),('Severe',1185,1409),('Mild',1311,1400),('Moderate',1373,1414),('Severe',1452,1409)]:
    T(t, x, y, 24, '#222', angle=-45)
T('D', 873, 657, 38, bold=True)

# Panel E
e_boxes_px = {"MED10":(60.6,1528,360,1860),"MRPL15":(434,1528,743,1860),"NUDT21":(812,1530,1115,1862),"PLEC":(1194,1526,1500,1859),"ZBTB16":(1558,1526,1850,1862)}
e_ytitle_x = {"MED10":23,"MRPL15":407,"NUDT21":775,"PLEC":1156,"ZBTB16":1533}
for g in e_genes:
    b = e_boxes_px[g]
    rect(*b, fill='#EBEBEB', layer='below')
    grid = dict(showgrid=True, gridcolor='white', gridwidth=2.5, ticks='outside', ticklen=4, tickwidth=2, tickcolor='#333', showticklabels=True, tickfont=dict(size=13.5, color='#4D4D4D'))
    fmt = '.1f' if g in ("MED10","NUDT21","PLEC") else 'd'
    xa, ya = axes(b, (-.6,2.6), e_yrange[g], dict(grid, tickvals=[0,1,2], ticktext=e_stage, ticklabelstandoff=-3),
                  dict(grid, tickvals=e_ticks[g], tickformat=fmt, minor=dict(tickvals=e_minor[g], showgrid=True, gridcolor='white', gridwidth=1.2, ticks='')))
    for k, (hi, q3, med, q1, lo) in enumerate(e_boxes[g]):
        fig.add_trace(go.Box(x=[k], q1=[q1], median=[med], q3=[q3], lowerfence=[lo], upperfence=[hi], width=.62, whiskerwidth=0, xaxis=xa, yaxis=ya,
                             fillcolor=e_colors[k], line=dict(color='#333', width=3), hoverinfo='skip'))
        lines([[(k-.31,med),(k+.31,med)]], xa, ya, '#2A2A2A', 6)
    fig.add_trace(go.Scatter(x=[0,1,2], y=e_median[g], xaxis=xa, yaxis=ya, mode='lines', line=dict(color='#EE7268', width=6.5), hoverinfo='skip'))
    fig.add_trace(go.Scatter(x=[0,2], y=e_predict[g], xaxis=xa, yaxis=ya, mode='lines', line=dict(color='#1FB5B8', width=7.5), hoverinfo='skip'))
    T(g, b[0], b[1]-19, 18, '#222', xa='left')
    T('Expression', e_ytitle_x[g], (b[1]+b[3])/2+0, 15.5, '#222', angle=-90)
    T('Type', (b[0]+b[2])/2, b[3]+30, 15, '#222')
T('E', 22, 1518, 38, bold=True)
T('Sample', 1872, 1599, 15, '#222', xa='left')
for k, (nm, y) in enumerate(zip(e_stage, (1627,1652,1678))):
    rect(1882.3, y-12, 1883.7, y+12, '#333')
    rect(1874, y-9, 1892, y+9, e_colors[k], '#333', 2.5)
    rect(1874, y-1.5, 1892, y+1.5, '#333')
    T(nm, 1901.5, y, 12, '#222', xa='left')
T('variable', 1872, 1731, 15, '#222', xa='left')
for c, nm, y in [('#EE7268','median',1759),('#1FB5B8','predict',1785)]:
    rect(1874, y-12, 1892, y+12, '#EBEBEB')
    rect(1874, y-4, 1892, y+4, c)
    T(nm, 1901.5, y, 12, '#222', xa='left')

# Panel F
xa, ya = axes((0,1980,478,2600), (0,1), (11.57,-.474))
F_C = {'g':'#2FA23B','b':'#5B82C4','r':'#E0685E'}
for key, inner in (('g',f_inner_green),('b',f_inner_blue),('r',f_inner_red)):
    segs = [[(a,b),(c,d)] for a,b,c,d in inner]
    dots = []
    for r, grp in enumerate(f_term_groups):
        if grp == key:
            segs.append([(f_stem_x[r],r),(f_leaf_end[r],r)])
            dots.append([(f_leaf_end[r],r),(.995,r)])
    lines(segs, xa, ya, F_C[key], 3.6)
    lines(dots, xa, ya, F_C[key], 3, '3px,12px')
for r, (term, grp) in enumerate(zip(f_terms, f_term_groups)):
    annos.append(dict(text=term, x=1.0, y=r, xref=xa, yref=ya, showarrow=False, xanchor='left', yanchor='middle', font=dict(size=14.3, color=F_C[grp])))
xa, ya = axes((761,1985,892,2602.5), (-.5,2.5), (11.5,-.5), dict(tickvals=[0,1,2], ticktext=f_cols, showticklabels=True, tickangle=-90, tickfont=dict(size=13, color='#222')))
fig.add_trace(go.Heatmap(z=f_tiles, x=[0,1,2], y=list(range(12)), xaxis=xa, yaxis=ya, colorscale=f_scale, zmin=.05, zmax=.7, showscale=False, ygap=1, hoverinfo='skip', hoverongaps=False))
rect(915.5, 2010, 918.5, 2422.5, '#17B0A8'); rect(915.5, 2474, 918.5, 2525.5, '#8A6FB8')
xa, ya = axes((972.5,2260,995,2352), (0,1), (-.01,.739))
fig.add_trace(go.Heatmap(z=[[v] for v in f_ramp], y=f_ramp, x=[.5], xaxis=xa, yaxis=ya, colorscale=f_scale, zmin=.05, zmax=.7, showscale=False, hoverinfo='skip', zsmooth='best'))
for v, y in [('0.6',2277),('0.4',2301.6),('0.2',2326)]:
    T(v, 1002, y, 12, '#222', xa='left')
    rect(972.5, y-.6, 977, y+.6, 'white'); rect(990.5, y-.6, 995, y+.6, 'white')
T('F', 24, 2026, 38, bold=True)

# Panel G
def c_of(px): return (px-1351.4)/36.43-.5
def r_of(py): return (py-2004)/39.11-.5
xa, ya = axes((1010,1990,1880,2636), (c_of(1010),c_of(1880)), (r_of(2636),r_of(1990)))
def link(src, tgt, color, width):
    sx, sy = g_nodes[src]
    tx, ty = tgt-2, tgt
    dx, dy = tx-sx, ty-sy
    cx, cy = (sx+tx)/2+.17*dy, (sy+ty)/2-.17*dx
    shapes.append(dict(type='path', xref=xa, yref=ya, path=f'M {sx} {sy} Q {cx} {cy} {tx} {ty}', line=dict(color=color, width=width),
                       fillcolor='rgba(0,0,0,0)', layer='below'))
for s, t, w in g_links_orange:
    link(s, t, '#D05F14', w)
for s, t, c, w in g_links_thin:
    link(s, t, c, w)
link(*g_link_top)
seg = []
for r in range(14):
    seg.append([(r-.5,r-.5),(13.5,r-.5)]); seg.append([(r-.5,r+.5),(13.5,r+.5)])
for c in range(14):
    seg.append([(c-.5,-.5),(c-.5,c+.5)])
seg.append([(13.5,-.5),(13.5,14.5)])
lines(seg, xa, ya, '#A6A6A6', 2)
lines([[(c,-.68),(c,-.5)] for c in range(14)], xa, ya, '#333', 2)
gx, gy, gz, gs = [], [], [], []
for r, row in enumerate(g_corr):
    for k, v in enumerate(row):
        gx.append(r+k); gy.append(r); gz.append(v)
        gs.append(min(36, 37*abs(v)**.5))
fig.add_trace(go.Scatter(x=gx, y=gy, xaxis=xa, yaxis=ya, mode='markers', hoverinfo='skip',
                         marker=dict(symbol='square', size=gs, opacity=1, color=gz, cmin=-1, cmax=1, colorscale=g_scale, line=dict(color='#555', width=2))))
fig.add_trace(go.Scatter(x=[t-2 for t in g_targets], y=g_targets, xaxis=xa, yaxis=ya, mode='markers', hoverinfo='skip', marker=dict(color='black', size=7)))
fig.add_trace(go.Scatter(x=[v[0] for v in g_nodes.values()], y=[v[1] for v in g_nodes.values()], xaxis=xa, yaxis=ya, mode='markers', hoverinfo='skip', marker=dict(color='black', size=7)))
for c, name in enumerate(g_cols):
    annos.append(dict(text='<i>'+name+'</i>', x=c-.1, y=-.72, xref=xa, yref=ya, showarrow=False, xanchor='left', yanchor='bottom', textangle=-45, font=dict(size=17, color='#222')))
for r, name in enumerate(g_rows):
    annos.append(dict(text='<i>'+name+'</i>', x=r-1, y=r, xref=xa, yref=ya, showarrow=False, xanchor='center', yanchor='middle', textangle=-45, font=dict(size=17, color='#222')))
for (name, (nx, ny)) in g_nodes.items():
    annos.append(dict(text=name, x=nx, y=ny, xref=xa, yref=ya, xshift=-7, showarrow=False, xanchor='right', yanchor='middle', font=dict(size=14, color='#111')))
T('G', 1062, 2010, 38, bold=True)
T("Mantel's r", 1886, 2118, 16, '#222', xa='left')
for t, x, y in [('&lt;0.25',1940,2121),('&lt;0.5',1937,2143),('&gt;=0.5',1938,2164)]:
    T(t, x, y, 12.5, '#222')
rect(1888, 2134, 1905, 2153, '#F2F2F2'); rect(1888, 2142.5, 1905, 2144.5, '#444')
rect(1888, 2155, 1905, 2176, '#F2F2F2'); rect(1888, 2162, 1905, 2173, '#5A5A5A')
rect(1888, 2177, 1905, 2207, '#F2F2F2'); rect(1888, 2179, 1905, 2206, '#5A5A5A')
T('p value', 1886, 2242, 16, '#222', xa='left')
for t, x, y in [('&lt;0.001',1941.5,2233),('&lt;0.01',1938,2253),('&lt;0.05',1938,2275),('&gt;=0.05',1941.5,2296)]:
    T(t, x, y, 12.5, '#222')
for c, y0, y1 in [('#D05F14',2261,2275),('#1B9E77',2285,2298),('#7570B3',2309,2323),('#CCCCCC',2332,2347)]:
    rect(1888, y0-3, 1905, y1+3, '#F2F2F2'); rect(1888, y0, 1905, y1, c)
T('corr', 1886, 2389, 16, '#222', xa='left')
xa, ya = axes((1887,2403,1908,2522), (0,1), (-1,1))
fig.add_trace(go.Heatmap(z=[[v] for v in g_ramp], y=g_ramp, x=[.5], xaxis=xa, yaxis=ya, colorscale=g_scale, zmin=-1, zmax=1, showscale=False, hoverinfo='skip', zsmooth='best'))
for t, x, y in [('1',1929,2355),('0.5',1933,2381),('0',1929,2407),('−0.5',1935,2433),('−1',1932,2459)]:
    T(t, x, y, 12.5, '#222')

layout['annotations'] = annos
layout['shapes'] = shapes
fig.update_layout(**layout)
fig.write_html("out.html", config={'displayModeBar': False}, post_script="document.body.style.margin='0';")
